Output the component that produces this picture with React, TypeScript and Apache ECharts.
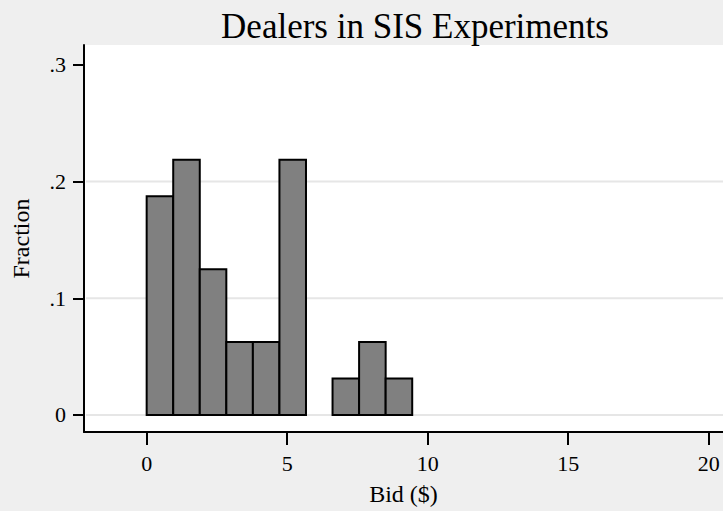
import React, { useEffect, useRef } from "react";
import * as echarts from "echarts";

const binStarts = [0, 0.945, 1.89, 2.835, 3.78, 4.725, 5.67, 6.615, 7.56, 8.505];
const binWidth = 0.945;
const fractions = [0.1875, 0.21875, 0.125, 0.0625, 0.0625, 0.21875, 0, 0.03125, 0.0625, 0.03125];
const xTicks = [0, 5, 10, 15, 20];
const yTicks = [0, 0.1, 0.2, 0.3];
const gridValues = [0, 0.1, 0.2];

const X_MIN = -2.23;
const X_MAX = 20.51;
const Y_MIN = -0.0146;
const Y_MAX = 0.3171;

const FONT = "'Liberation Serif', 'DejaVu Serif', serif";

export default function App() {
  const ref = useRef<HTMLDivElement>(null);
  useEffect(() => {
    if (!ref.current) return;
    const chart = echarts.init(ref.current, undefined, { renderer: "svg" });
    const barData = binStarts
      .map((s, i) => [s, s + binWidth, fractions[i]])
      .filter((d) => d[2] > 0);
    chart.setOption({
      animation: false,
      backgroundColor: "#efefef",
      title: {
        text: "Dealers in SIS Experiments",
        left: 410,
        top: 4,
        textAlign: "center",
        textStyle: { fontFamily: FONT, fontSize: 35, fontWeight: "normal", color: "#000" },
      },
      grid: {
        left: 84,
        right: 0,
        top: 45,
        bottom: 79,
        backgroundColor: "#fff",
        show: true,
        borderWidth: 0,
        containLabel: false,
        outerBoundsMode: "none",
      },
      xAxis: {
        type: "value",
        min: X_MIN,
        max: X_MAX,
        name: "Bid ($)",
        nameLocation: "middle",
        nameGap: 50,
        nameTextStyle: { fontFamily: FONT, fontSize: 24, color: "#000" },
        axisLine: { show: true, onZero: false, lineStyle: { color: "#000", width: 2 } },
        axisTick: { show: true, length: 13, customValues: xTicks, lineStyle: { color: "#000", width: 2 } },
        axisLabel: {
          customValues: xTicks,
          fontFamily: FONT,
          fontSize: 22,
          color: "#000",
          margin: 20,
        },
        splitLine: { show: false },
      },
      yAxis: {
        type: "value",
        min: Y_MIN,
        max: Y_MAX,
        name: "Fraction",
        nameLocation: "middle",
        nameGap: 51,
        nameTextStyle: { fontFamily: FONT, fontSize: 24, color: "#000" },
        axisLine: { show: true, onZero: false, lineStyle: { color: "#000", width: 2 } },
        axisTick: { show: true, length: 11, customValues: yTicks, lineStyle: { color: "#000", width: 2 } },
        axisLabel: {
          customValues: yTicks,
          fontFamily: FONT,
          fontSize: 22,
          color: "#000",
          margin: 18,
          formatter: (v: number) => (v === 0 ? "0" : String(Math.round(v * 10) / 10).replace(/^0/, "")),
        },
        splitLine: { show: false },
      },
      series: [
        {
          type: "custom",
          z: 1,
          silent: true,
          data: gridValues.map((v) => [v]),
          renderItem: (params: any, api: any) => {
            const v = api.value(0);
            const p1 = api.coord([X_MIN, v]);
            const p2 = api.coord([X_MAX, v]);
            return {
              type: "line",
              shape: { x1: p1[0] + 2, y1: p1[1], x2: p2[0], y2: p2[1] },
              style: { stroke: "#e6e6e6", lineWidth: 2 },
            };
          },
        },
        {
          type: "custom",
          z: 2,
          data: barData,
          renderItem: (params: any, api: any) => {
            const p0 = api.coord([api.value(0), 0]);
            const p1 = api.coord([api.value(1), api.value(2)]);
            return {
              type: "rect",
              shape: { x: p0[0], y: p1[1], width: p1[0] - p0[0], height: p0[1] - p1[1] },
              style: { fill: "#808080", stroke: "#000", lineWidth: 2 },
            };
          },
        },
      ],
    });
    return () => chart.dispose();
  }, []);
  return (
    <div
      ref={ref}
      style={{ position: "fixed", left: 0, top: 0, width: 723, height: 511 }}
    />
  );
}
